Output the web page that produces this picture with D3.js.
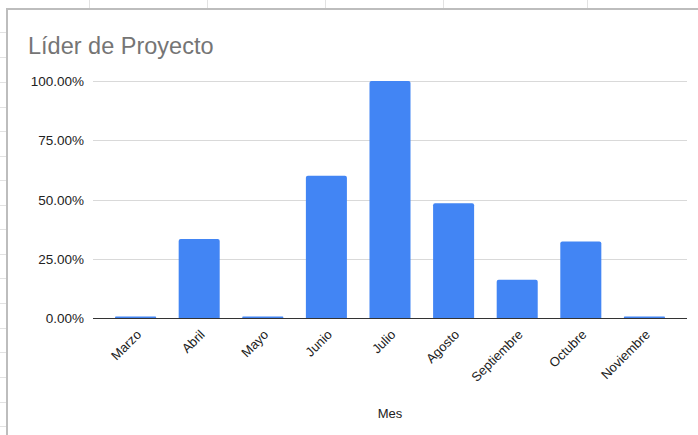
<!DOCTYPE html>
<html><head><meta charset="utf-8">
<script src="https://cdn.jsdelivr.net/npm/d3@7"></script>
<style>html,body{margin:0;padding:0;background:#fff;}svg{display:block;font-family:"Liberation Sans",Arial,sans-serif;}</style>
</head><body>
<svg id="c" width="698" height="435"></svg>
<script>
const months = ["Marzo","Abril","Mayo","Junio","Julio","Agosto","Septiembre","Octubre","Noviembre"];
const values = [0, 0.3333, 0, 0.6, 1.0, 0.4839, 0.1613, 0.3226, 0];
const yTicks = [0, 0.25, 0.5, 0.75, 1.0];
const sheetCols = [89, 207, 325, 443, 587];
const sheetRows = [32, 57, 82, 107, 131, 156, 180, 205, 229, 254, 278, 303, 328, 352, 377, 402, 426];

const svg = d3.select("#c");
// spreadsheet background grid
svg.selectAll("line.col").data(sheetCols).enter().append("line")
  .attr("x1", d => d + 0.5).attr("x2", d => d + 0.5).attr("y1", 0).attr("y2", 8)
  .attr("stroke", "#e2e2e2").attr("stroke-width", 1);
svg.selectAll("line.row").data(sheetRows).enter().append("line")
  .attr("x1", 0).attr("x2", 6).attr("y1", d => d + 0.5).attr("y2", d => d + 0.5)
  .attr("stroke", "#e2e2e2").attr("stroke-width", 1);
// chart frame
svg.append("path").attr("d", "M7,435 V9 H698").attr("fill", "none")
  .attr("stroke", "#bdbdbd").attr("stroke-width", 2);

const pLeft = 93, pRight = 687, pTop = 81, pBottom = 318;
const x = d3.scaleBand().domain(months).range([pLeft, pRight]).paddingInner(0.355).paddingOuter(0.347);
const y = d3.scaleLinear().domain([0, 1]).range([pBottom, pTop]);

svg.append("text").attr("x", 28).attr("y", 54).attr("font-size", 23.5).attr("fill", "#757575")
  .text("Líder de Proyecto");

// gridlines
svg.append("g").selectAll("line").data(yTicks.filter(d => d > 0)).enter().append("line")
  .attr("x1", pLeft).attr("x2", pRight).attr("y1", d => Math.round(y(d)) + 0.5).attr("y2", d => Math.round(y(d)) + 0.5)
  .attr("stroke", "#d9d9d9").attr("stroke-width", 1);

// y labels
const fmt = d => (d * 100).toFixed(2) + "%";
svg.append("g").selectAll("text").data(yTicks).enter().append("text")
  .attr("x", 84).attr("y", d => y(d) + 5).attr("text-anchor", "end")
  .attr("font-size", 13.5).attr("fill", "#222").text(fmt);

// bars
const rTop = 2;
svg.append("g").selectAll("path").data(values).enter().append("path")
  .attr("fill", "#4285f4")
  .attr("d", (d, i) => {
    const x0 = x(months[i]), w = x.bandwidth();
    const h = Math.max(y(0) - y(d), 1.5);
    const yt = y(0) - h;
    const r = Math.min(rTop, h / 2);
    return `M${x0},${y(0)} V${yt + r} Q${x0},${yt} ${x0 + r},${yt} H${x0 + w - r} Q${x0 + w},${yt} ${x0 + w},${yt + r} V${y(0)} Z`;
  });

// baseline
svg.append("line").attr("x1", pLeft).attr("x2", pRight).attr("y1", pBottom + 0.5).attr("y2", pBottom + 0.5)
  .attr("stroke", "#333").attr("stroke-width", 1);

// x labels
svg.append("g").selectAll("text").data(months).enter().append("text")
  .attr("transform", d => `translate(${x(d) + x.bandwidth() / 2},${pBottom + 11}) rotate(-45)`)
  .attr("text-anchor", "end").attr("dy", "0.7em")
  .attr("font-size", 13).attr("fill", "#222").text(d => d);

svg.append("text").attr("x", 390).attr("y", 418).attr("text-anchor", "middle")
  .attr("font-size", 13).attr("fill", "#222").text("Mes");
</script>
</body></html>
